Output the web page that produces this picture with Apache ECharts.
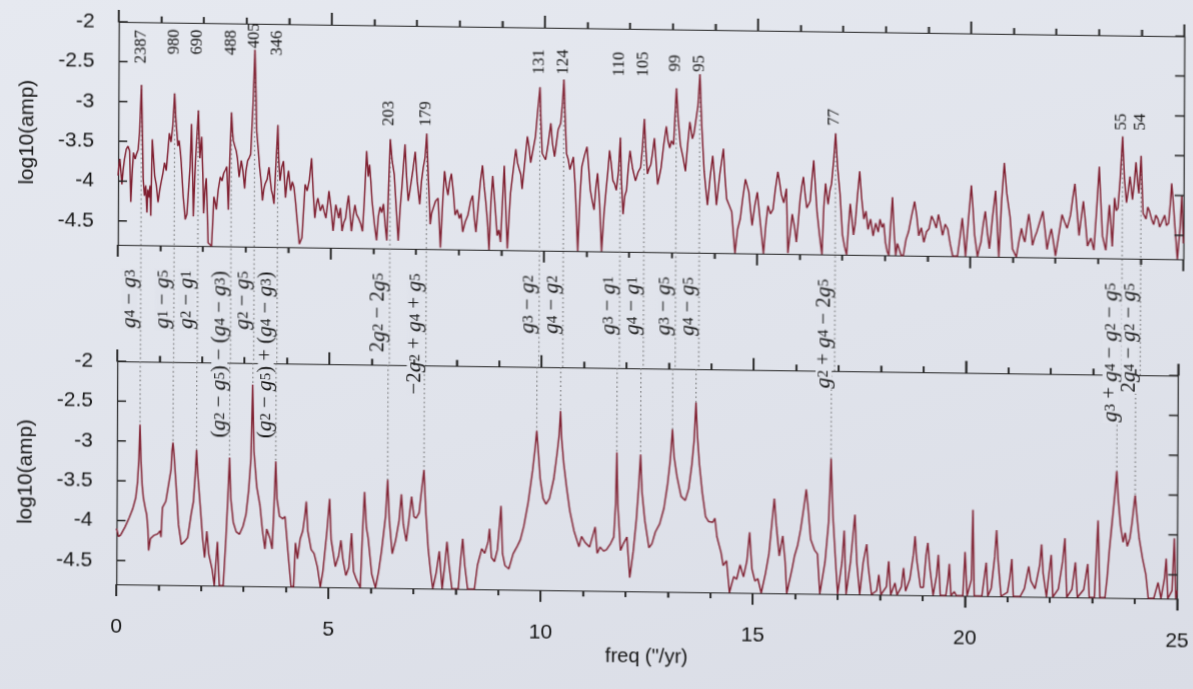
<!DOCTYPE html>
<html>
<head>
<meta charset="utf-8">
<script src="https://cdn.jsdelivr.net/npm/echarts@6/dist/echarts.min.js"></script>
<style>
  html, body { margin: 0; padding: 0; width: 1193px; height: 689px; overflow: hidden;
    background: linear-gradient(165deg, #e6e9f0 0%, #e0e3eb 55%, #dadde6 100%); }
  #chart { position: absolute; left: 0; top: 0; width: 1193px; height: 689px; transform-origin: 0 0; }
</style>
</head>
<body>
<div id="chart"></div>
<script>
// ---- Upper panel: spectrum of the full solution, [frequency ("/yr), log10 amplitude]
const topSpectrum = [
  [0.00,-3.93],[0.02,-3.80],[0.04,-3.72],[0.07,-3.90],[0.09,-4.04],[0.12,-3.85],[0.15,-3.72],[0.19,-3.60],
  [0.23,-3.56],[0.27,-3.62],[0.30,-4.26],[0.33,-3.90],[0.36,-3.64],[0.40,-3.72],[0.43,-3.66],[0.47,-3.60],
  [0.50,-3.39],[0.54,-2.79],[0.57,-3.43],[0.59,-3.97],[0.62,-4.18],[0.65,-4.05],[0.68,-4.39],[0.70,-4.10],
  [0.73,-4.20],[0.75,-4.05],[0.77,-4.43],[0.80,-3.47],[0.83,-3.70],[0.86,-3.93],[0.90,-4.05],[0.94,-4.26],
  [0.98,-4.10],[1.01,-4.01],[1.05,-3.90],[1.09,-3.76],[1.13,-3.86],[1.17,-3.60],[1.20,-3.39],[1.24,-3.50],
  [1.28,-3.30],[1.32,-2.89],[1.35,-3.20],[1.38,-3.40],[1.40,-3.55],[1.43,-3.48],[1.46,-3.62],[1.48,-3.75],
  [1.53,-4.18],[1.58,-4.47],[1.62,-4.40],[1.65,-4.38],[1.69,-3.80],[1.72,-3.27],[1.75,-3.90],[1.77,-4.43],
  [1.80,-3.95],[1.82,-3.70],[1.85,-3.40],[1.88,-3.10],[1.90,-3.45],[1.92,-3.70],[1.94,-3.55],[1.96,-3.43],
  [1.99,-3.90],[2.01,-4.39],[2.04,-4.10],[2.07,-3.95],[2.10,-4.40],[2.12,-4.76],[2.20,-4.80],[2.23,-4.45],
  [2.25,-4.18],[2.28,-4.25],[2.31,-4.34],[2.35,-4.10],[2.40,-3.93],[2.44,-3.98],[2.48,-3.88],[2.52,-3.84],
  [2.55,-3.80],[2.59,-4.34],[2.62,-3.70],[2.656,-3.12],[2.68,-3.35],[2.70,-3.47],[2.74,-3.55],[2.77,-3.60],
  [2.80,-3.70],[2.84,-3.93],[2.89,-3.72],[2.93,-3.85],[2.97,-4.07],[3.00,-3.85],[3.04,-3.72],[3.08,-3.68],
  [3.11,-3.64],[3.16,-3.02],[3.20,-2.33],[3.23,-2.90],[3.25,-3.35],[3.29,-3.60],[3.32,-3.80],[3.36,-4.00],
  [3.39,-4.22],[3.42,-4.08],[3.45,-4.01],[3.50,-3.95],[3.54,-3.80],[3.57,-3.95],[3.60,-4.09],[3.63,-4.15],
  [3.66,-4.26],[3.70,-4.24],[3.746,-3.27],[3.77,-3.70],[3.80,-3.97],[3.84,-3.80],[3.88,-3.72],[3.93,-4.18],
  [3.97,-3.95],[4.00,-3.84],[4.05,-4.09],[4.09,-3.98],[4.13,-4.05],[4.17,-4.25],[4.20,-4.43],[4.26,-4.76],
  [4.32,-4.68],[4.36,-4.30],[4.39,-4.01],[4.44,-4.09],[4.49,-3.95],[4.54,-3.68],[4.58,-4.10],[4.62,-4.43],
  [4.66,-4.25],[4.69,-4.18],[4.75,-4.34],[4.80,-4.26],[4.84,-4.35],[4.88,-4.43],[4.92,-4.25],[4.95,-4.09],
  [5.00,-4.30],[5.05,-4.59],[5.11,-4.26],[5.15,-4.35],[5.18,-4.43],[5.22,-4.30],[5.26,-4.59],[5.30,-4.48],
  [5.34,-4.43],[5.38,-4.25],[5.41,-4.14],[5.45,-4.40],[5.48,-4.59],[5.52,-4.40],[5.56,-4.26],[5.60,-4.38],
  [5.65,-4.43],[5.70,-4.50],[5.74,-4.59],[5.78,-4.20],[5.83,-3.58],[5.87,-3.90],[5.90,-3.75],[5.93,-3.95],
  [5.96,-4.20],[6.02,-4.50],[6.07,-4.70],[6.11,-4.40],[6.15,-4.28],[6.19,-4.35],[6.23,-4.24],[6.27,-4.50],
  [6.31,-4.70],[6.35,-4.00],[6.384,-3.43],[6.43,-3.70],[6.48,-3.87],[6.53,-4.30],[6.58,-4.70],[6.62,-4.30],
  [6.66,-4.03],[6.73,-3.49],[6.77,-3.90],[6.81,-4.20],[6.84,-4.10],[6.87,-4.12],[6.92,-3.80],[6.97,-3.58],
  [7.02,-3.95],[7.08,-4.24],[7.12,-3.95],[7.16,-3.78],[7.20,-3.66],[7.24,-3.35],[7.28,-3.90],[7.33,-4.49],
  [7.36,-4.35],[7.40,-4.37],[7.45,-4.20],[7.51,-4.16],[7.54,-4.45],[7.57,-4.78],[7.62,-4.20],[7.66,-3.82],
  [7.70,-4.00],[7.74,-4.12],[7.78,-3.95],[7.82,-3.85],[7.87,-4.10],[7.91,-4.37],[7.96,-4.30],[8.01,-4.41],
  [8.05,-4.35],[8.09,-4.58],[8.15,-4.45],[8.21,-4.37],[8.27,-4.20],[8.32,-4.12],[8.36,-4.40],[8.40,-4.58],
  [8.46,-4.20],[8.50,-3.95],[8.55,-3.74],[8.59,-4.00],[8.63,-4.20],[8.67,-4.45],[8.71,-4.80],[8.75,-4.20],
  [8.79,-3.87],[8.84,-4.20],[8.90,-4.62],[8.94,-4.55],[8.98,-4.70],[9.02,-4.20],[9.06,-3.74],[9.10,-4.30],
  [9.14,-4.78],[9.18,-4.35],[9.21,-4.08],[9.27,-3.80],[9.33,-3.53],[9.37,-3.70],[9.41,-3.78],[9.45,-3.85],
  [9.48,-4.03],[9.54,-3.70],[9.60,-3.37],[9.64,-3.50],[9.68,-3.70],[9.73,-3.55],[9.79,-3.37],[9.84,-3.05],
  [9.893,-2.75],[9.92,-3.20],[9.95,-3.58],[9.99,-3.62],[10.03,-3.66],[10.09,-3.45],[10.15,-3.20],[10.19,-3.45],
  [10.24,-3.62],[10.28,-3.45],[10.32,-3.28],[10.35,-3.30],[10.38,-3.20],[10.42,-2.95],[10.452,-2.65],[10.49,-3.20],
  [10.52,-3.58],[10.56,-3.65],[10.60,-3.78],[10.64,-3.70],[10.68,-3.62],[10.72,-3.95],[10.76,-4.40],[10.79,-4.80],
  [10.84,-4.10],[10.88,-3.74],[10.94,-3.60],[11.00,-3.49],[11.04,-3.75],[11.08,-4.03],[11.12,-4.15],[11.17,-4.28],
  [11.21,-4.00],[11.25,-3.82],[11.30,-4.20],[11.35,-4.80],[11.40,-4.35],[11.45,-4.03],[11.49,-3.80],[11.53,-3.53],
  [11.57,-3.70],[11.61,-3.91],[11.65,-3.95],[11.69,-4.03],[11.74,-3.80],[11.782,-3.37],[11.81,-3.90],[11.85,-4.33],
  [11.89,-4.10],[11.93,-4.03],[11.97,-3.75],[12.01,-3.53],[12.07,-3.75],[12.14,-3.91],[12.20,-3.80],[12.26,-3.74],
  [12.30,-3.50],[12.343,-3.13],[12.38,-3.50],[12.42,-3.82],[12.46,-3.75],[12.50,-3.70],[12.54,-3.55],[12.58,-3.37],
  [12.62,-3.65],[12.66,-3.95],[12.70,-3.85],[12.74,-3.74],[12.80,-3.45],[12.86,-3.22],[12.90,-3.40],[12.94,-3.49],
  [12.98,-3.40],[13.03,-3.45],[13.06,-3.10],[13.091,-2.74],[13.14,-3.15],[13.19,-3.45],[13.25,-3.60],[13.31,-3.78],
  [13.36,-3.45],[13.41,-3.16],[13.47,-3.37],[13.51,-3.30],[13.55,-3.28],[13.60,-2.95],[13.642,-2.56],[13.69,-3.20],
  [13.75,-3.78],[13.79,-4.00],[13.83,-4.20],[13.89,-3.85],[13.95,-3.58],[14.00,-3.90],[14.04,-4.20],[14.12,-3.80],
  [14.20,-3.49],[14.24,-3.85],[14.28,-4.12],[14.34,-4.20],[14.40,-4.28],[14.44,-4.55],[14.48,-4.80],[14.54,-4.50],
  [14.60,-4.37],[14.66,-4.10],[14.72,-3.87],[14.76,-3.95],[14.80,-4.03],[14.84,-4.25],[14.88,-4.45],[14.94,-4.20],
  [15.00,-4.03],[15.07,-4.40],[15.15,-4.80],[15.20,-4.45],[15.25,-4.20],[15.31,-4.30],[15.37,-4.24],[15.42,-4.00],
  [15.48,-3.77],[15.52,-3.90],[15.56,-4.05],[15.62,-4.16],[15.68,-3.98],[15.72,-4.79],[15.77,-4.55],[15.82,-4.30],
  [15.87,-4.45],[15.92,-4.65],[15.96,-4.40],[16.00,-4.13],[16.04,-3.95],[16.08,-3.83],[16.12,-4.05],[16.16,-4.22],
  [16.20,-4.18],[16.24,-4.13],[16.28,-3.85],[16.32,-3.62],[16.36,-3.95],[16.40,-4.26],[16.46,-4.55],[16.52,-4.80],
  [16.56,-4.20],[16.60,-3.91],[16.63,-4.05],[16.66,-4.17],[16.70,-4.00],[16.74,-3.91],[16.79,-3.60],[16.831,-3.28],
  [16.88,-3.70],[16.94,-4.04],[16.97,-4.30],[17.00,-4.55],[17.05,-4.70],[17.10,-4.80],[17.14,-4.45],[17.18,-4.16],
  [17.22,-4.35],[17.26,-4.55],[17.30,-4.40],[17.35,-4.05],[17.40,-3.75],[17.45,-4.10],[17.50,-4.35],[17.55,-4.25],
  [17.60,-4.48],[17.66,-4.35],[17.72,-4.56],[17.78,-4.40],[17.84,-4.51],[17.88,-4.35],[17.93,-4.45],[17.97,-4.40],
  [18.01,-4.64],[18.05,-4.75],[18.09,-4.80],[18.13,-4.40],[18.17,-4.07],[18.21,-4.50],[18.25,-4.80],[18.29,-4.65],
  [18.33,-4.72],[18.38,-4.80],[18.43,-4.80],[18.49,-4.60],[18.55,-4.50],[18.62,-4.30],[18.69,-4.12],[18.74,-4.30],
  [18.79,-4.55],[18.85,-4.45],[18.91,-4.63],[18.97,-4.50],[19.03,-4.46],[19.09,-4.30],[19.15,-4.37],[19.20,-4.45],
  [19.25,-4.28],[19.30,-4.40],[19.35,-4.54],[19.41,-4.40],[19.47,-4.46],[19.53,-4.65],[19.59,-4.80],[19.70,-4.80],
  [19.76,-4.55],[19.81,-4.32],[19.85,-4.55],[19.89,-4.80],[19.96,-4.30],[20.02,-3.91],[20.06,-4.20],[20.10,-4.53],
  [20.17,-4.80],[20.21,-4.70],[20.25,-4.62],[20.30,-4.40],[20.35,-4.23],[20.40,-4.50],[20.45,-4.70],[20.52,-4.30],
  [20.59,-3.97],[20.63,-4.40],[20.67,-4.80],[20.73,-4.10],[20.79,-3.62],[20.85,-4.00],[20.93,-4.30],[20.99,-4.70],
  [21.08,-4.80],[21.14,-4.60],[21.20,-4.44],[21.24,-4.55],[21.28,-4.61],[21.33,-4.40],[21.37,-4.26],[21.42,-4.45],
  [21.46,-4.65],[21.51,-4.55],[21.56,-4.48],[21.63,-4.35],[21.70,-4.22],[21.75,-4.45],[21.80,-4.70],[21.85,-4.55],
  [21.90,-4.44],[21.95,-4.60],[22.00,-4.78],[22.08,-4.50],[22.15,-4.26],[22.21,-4.35],[22.27,-4.43],[22.31,-4.35],
  [22.35,-4.26],[22.40,-4.05],[22.45,-3.87],[22.50,-4.20],[22.55,-4.52],[22.60,-4.30],[22.65,-4.09],[22.70,-4.35],
  [22.75,-4.65],[22.83,-4.55],[22.90,-4.70],[22.96,-4.20],[23.02,-3.65],[23.06,-4.10],[23.10,-4.52],[23.18,-4.70],
  [23.22,-4.40],[23.26,-4.13],[23.30,-4.40],[23.33,-4.65],[23.38,-4.04],[23.42,-4.20],[23.46,-4.17],[23.51,-3.80],
  [23.564,-3.27],[23.61,-3.80],[23.66,-4.10],[23.70,-3.95],[23.74,-3.77],[23.80,-4.06],[23.84,-3.85],[23.88,-3.59],
  [23.92,-3.85],[23.95,-3.98],[24.00,-3.51],[24.05,-4.23],[24.12,-4.30],[24.16,-4.15],[24.20,-4.20],[24.25,-4.30],
  [24.30,-4.37],[24.35,-4.25],[24.40,-4.30],[24.44,-4.40],[24.48,-4.42],[24.52,-4.30],[24.56,-4.25],[24.60,-4.38],
  [24.65,-4.35],[24.69,-4.10],[24.72,-3.85],[24.76,-4.10],[24.80,-4.40],[24.86,-4.80],[24.92,-4.40],[24.96,-4.00],
  [25.00,-4.60]
];

// ---- Lower panel: spectrum of the filtered solution, [frequency ("/yr), log10 amplitude]
const bottomSpectrum = [
  [0.00,-4.10],[0.05,-4.20],[0.10,-4.18],[0.20,-4.08],[0.30,-3.96],[0.38,-3.85],[0.45,-3.71],[0.49,-3.52],
  [0.52,-3.22],[0.543,-2.79],[0.57,-3.25],[0.60,-3.55],[0.63,-3.71],[0.68,-3.85],[0.71,-3.92],[0.74,-4.10],
  [0.76,-4.37],[0.80,-4.22],[0.88,-4.18],[0.97,-4.16],[1.03,-4.12],[1.05,-4.20],[1.08,-3.83],[1.16,-3.75],
  [1.22,-3.55],[1.28,-3.35],[1.30,-3.12],[1.322,-3.01],[1.35,-3.17],[1.38,-3.40],[1.42,-3.70],[1.46,-4.04],
  [1.53,-4.29],[1.61,-4.25],[1.68,-4.20],[1.76,-3.90],[1.81,-3.75],[1.85,-3.42],[1.878,-3.10],[1.91,-3.40],
  [1.97,-3.79],[2.03,-4.20],[2.08,-4.45],[2.13,-4.12],[2.18,-4.41],[2.26,-4.60],[2.31,-4.80],[2.38,-4.25],
  [2.43,-4.80],[2.52,-4.80],[2.58,-4.20],[2.62,-3.70],[2.656,-3.19],[2.69,-3.70],[2.75,-4.00],[2.82,-4.12],
  [2.90,-4.15],[2.98,-4.05],[3.05,-3.90],[3.11,-3.60],[3.16,-3.20],[3.195,-2.27],[3.23,-3.10],[3.30,-3.55],
  [3.38,-3.79],[3.44,-4.10],[3.50,-4.33],[3.54,-4.08],[3.62,-4.20],[3.67,-4.33],[3.71,-3.80],[3.746,-3.23],
  [3.78,-3.70],[3.84,-3.92],[3.92,-3.95],[3.97,-3.92],[4.05,-4.40],[4.12,-4.80],[4.18,-4.80],[4.22,-4.25],
  [4.27,-4.45],[4.33,-4.20],[4.39,-4.10],[4.44,-3.90],[4.47,-3.73],[4.51,-4.10],[4.59,-4.33],[4.66,-4.38],
  [4.74,-4.55],[4.81,-4.80],[4.87,-4.60],[4.96,-4.10],[5.02,-3.69],[5.06,-4.20],[5.16,-4.54],[5.24,-4.40],
  [5.29,-4.21],[5.34,-4.45],[5.41,-4.65],[5.48,-4.55],[5.54,-4.12],[5.59,-4.60],[5.66,-4.70],[5.75,-4.80],
  [5.80,-4.10],[5.84,-3.60],[5.89,-4.05],[5.93,-4.17],[6.02,-4.63],[6.11,-4.80],[6.18,-4.60],[6.25,-4.33],
  [6.34,-3.90],[6.384,-3.44],[6.43,-3.95],[6.50,-4.37],[6.58,-4.20],[6.66,-3.95],[6.71,-3.62],[6.76,-4.00],
  [6.83,-4.21],[6.89,-3.95],[6.95,-3.65],[7.01,-3.90],[7.06,-3.92],[7.13,-3.85],[7.18,-3.60],[7.24,-3.31],
  [7.29,-3.85],[7.35,-4.31],[7.41,-4.60],[7.46,-4.80],[7.54,-4.60],[7.61,-4.33],[7.68,-4.80],[7.74,-4.50],
  [7.79,-4.21],[7.84,-4.50],[7.91,-4.80],[8.06,-4.80],[8.11,-4.45],[8.16,-4.17],[8.21,-4.50],[8.28,-4.80],
  [8.44,-4.80],[8.51,-4.50],[8.61,-4.29],[8.68,-4.35],[8.76,-4.20],[8.79,-4.04],[8.84,-4.40],[8.91,-4.45],
  [8.98,-4.30],[9.06,-3.75],[9.10,-4.35],[9.16,-4.50],[9.25,-4.54],[9.35,-4.35],[9.45,-4.25],[9.52,-4.17],
  [9.60,-4.00],[9.70,-3.70],[9.80,-3.30],[9.86,-3.00],[9.893,-2.80],[9.93,-3.05],[9.98,-3.40],[10.05,-3.65],
  [10.12,-3.72],[10.20,-3.65],[10.30,-3.40],[10.38,-3.05],[10.42,-2.85],[10.452,-2.55],[10.48,-2.90],[10.53,-3.20],
  [10.60,-3.50],[10.68,-3.80],[10.78,-4.05],[10.90,-4.25],[10.96,-4.12],[11.05,-4.20],[11.15,-4.25],[11.28,-4.00],
  [11.33,-4.33],[11.40,-4.25],[11.48,-4.30],[11.55,-4.28],[11.65,-4.20],[11.72,-4.12],[11.76,-3.70],[11.782,-3.06],
  [11.81,-3.70],[11.88,-4.29],[11.95,-4.20],[12.03,-4.12],[12.10,-4.63],[12.18,-4.30],[12.25,-3.90],[12.30,-3.50],
  [12.343,-3.08],[12.38,-3.55],[12.45,-3.91],[12.55,-4.25],[12.62,-4.20],[12.70,-4.05],[12.80,-3.95],[12.90,-3.75],
  [12.98,-3.45],[13.04,-3.15],[13.091,-2.76],[13.13,-3.10],[13.20,-3.35],[13.30,-3.60],[13.40,-3.65],[13.48,-3.50],
  [13.55,-3.20],[13.60,-2.90],[13.642,-2.42],[13.68,-2.85],[13.73,-3.20],[13.80,-3.55],[13.88,-3.85],[13.95,-3.91],
  [14.05,-3.92],[14.10,-3.87],[14.15,-4.10],[14.25,-4.30],[14.30,-4.46],[14.38,-4.40],[14.45,-4.80],[14.55,-4.60],
  [14.62,-4.63],[14.70,-4.45],[14.78,-4.60],[14.86,-4.40],[14.92,-4.04],[14.98,-4.50],[15.05,-4.65],[15.12,-4.62],
  [15.20,-4.80],[15.30,-4.55],[15.38,-4.30],[15.44,-3.95],[15.50,-3.61],[15.55,-3.95],[15.62,-4.33],[15.70,-4.08],
  [15.76,-4.40],[15.80,-4.80],[15.92,-4.50],[15.98,-4.33],[16.05,-4.20],[16.12,-4.00],[16.20,-3.70],[16.25,-3.49],
  [16.30,-3.75],[16.36,-4.12],[16.45,-4.25],[16.52,-4.30],[16.58,-4.80],[16.70,-4.40],[16.78,-3.90],[16.831,-3.10],
  [16.88,-3.80],[16.95,-4.40],[17.00,-4.80],[17.10,-4.40],[17.15,-4.00],[17.20,-4.80],[17.30,-4.40],[17.40,-3.80],
  [17.45,-4.40],[17.52,-4.80],[17.60,-4.40],[17.68,-4.17],[17.72,-4.45],[17.80,-4.80],[17.92,-4.75],[17.97,-4.55],
  [18.02,-4.80],[18.15,-4.70],[18.20,-4.38],[18.25,-4.80],[18.35,-4.65],[18.40,-4.80],[18.50,-4.70],[18.55,-4.46],
  [18.60,-4.75],[18.70,-4.60],[18.78,-4.30],[18.82,-4.06],[18.86,-4.35],[18.95,-4.70],[19.02,-4.70],[19.08,-4.30],
  [19.12,-4.14],[19.17,-4.45],[19.25,-4.80],[19.33,-4.55],[19.37,-4.29],[19.42,-4.80],[19.55,-4.80],[19.60,-4.60],
  [19.63,-4.40],[19.67,-4.80],[19.75,-4.75],[19.80,-4.80],[19.95,-4.80],[20.00,-4.25],[20.05,-4.80],[20.15,-4.60],
  [20.18,-3.72],[20.22,-4.80],[20.40,-4.80],[20.47,-4.50],[20.50,-4.38],[20.54,-4.80],[20.62,-4.70],[20.70,-4.30],
  [20.74,-3.97],[20.78,-4.35],[20.85,-4.80],[21.00,-4.75],[21.06,-4.55],[21.10,-4.33],[21.14,-4.80],[21.30,-4.80],
  [21.40,-4.70],[21.50,-4.42],[21.55,-4.60],[21.65,-4.70],[21.76,-4.40],[21.80,-4.14],[21.84,-4.50],[21.92,-4.80],
  [21.98,-4.50],[22.03,-4.27],[22.07,-4.80],[22.20,-4.70],[22.30,-4.35],[22.35,-4.06],[22.40,-4.80],[22.52,-4.70],
  [22.60,-4.36],[22.65,-4.80],[22.80,-4.70],[22.89,-4.38],[22.93,-4.80],[23.05,-4.80],[23.13,-3.83],[23.18,-4.80],
  [23.30,-4.80],[23.35,-4.55],[23.40,-4.20],[23.46,-3.85],[23.52,-3.50],[23.564,-3.21],[23.60,-3.55],[23.66,-3.90],
  [23.72,-4.10],[23.77,-3.98],[23.82,-4.15],[23.88,-4.05],[23.93,-3.85],[23.97,-3.65],[24.00,-3.51],[24.04,-3.75],
  [24.10,-4.05],[24.18,-4.30],[24.26,-4.50],[24.32,-4.80],[24.45,-4.80],[24.55,-4.60],[24.62,-4.80],[24.70,-4.55],
  [24.74,-4.30],[24.78,-4.80],[24.88,-4.70],[24.93,-4.04],[24.97,-4.80],[25.00,-4.70]
];

// ---- Identified lines: period (kyr) and the secular-frequency combination
const periods = [2387, 980, 690, 488, 405, 346, 203, 179, 131, 124, 110, 105, 99, 95, 77, 55, 54];
const combos = [
  'g4 − g3', 'g1 − g5', 'g2 − g1', '(g2 − g5) − (g4 − g3)', 'g2 − g5', '(g2 − g5) + (g4 − g3)',
  '2g2 − 2g5', '−2g2 + g4 + g5', 'g3 − g2', 'g4 − g2', 'g3 − g1', 'g4 − g1',
  'g3 − g5', 'g4 − g5', 'g2 + g4 − 2g5', 'g3 + g4 − g2 − g5', '2g4 − g2 − g5'
];
const xTickValues = [0,1,2,3,4,5,6,7,8,9,10,11,12,13,14,15,16,17,18,19,20,21,22,23,24,25];
const yTickValues = [-4.5, -4, -3.5, -3, -2.5, -2];

// ---- Layout and styling
const W = 1193;
const PAPER = '#e0e3eb';
const INK = '#161616';
const AXIS = '#222222';
const CURVE = '#7e1d2e';
const GRID_TOP = { left: 118, right: 10, top: 18, height: 226 };
const GRID_BOT = { left: 118, right: 10, top: 362, height: 226 };
const PANEL_GAP = GRID_BOT.top - (GRID_TOP.top + GRID_TOP.height);
const COMBO_OFFSET = 24;            // formula labels start this far below the upper panel
const MAJOR_TICK = 12, MINOR_TICK = 6, Y_TICK = 9;   // tick lengths in px
const TICK_WIDTH = 1.5;
const periodLabelBase = [-2.52, -2.40, -2.40, -2.40, -2.31, -2.40, -3.26, -3.26,
                         -2.59, -2.59, -2.60, -2.60, -2.53, -2.53, -3.18, -3.19, -3.19];
const X_MIN = 0, X_MAX = 25, Y_MIN = -4.8, Y_MAX = -2;

const freqOf = p => 1296 / p;       // period in kyr -> frequency in "/yr
function peakNear(spec, f) {
  let best = -Infinity;
  for (const [x, y] of spec) if (Math.abs(x - f) <= 0.05) best = Math.max(best, y);
  return best;
}
const lineFreq = periods.map(freqOf);
const topPeak = lineFreq.map(f => peakNear(topSpectrum, f));
const botPeak = lineFreq.map(f => peakNear(bottomSpectrum, f));

// tick segments in axis units: outward on top/bottom (long every 5), inward on the sides
function tickSegments(grid) {
  const pxX = (W - grid.left - grid.right) / (X_MAX - X_MIN);
  const pxY = grid.height / (Y_MAX - Y_MIN);
  const segs = [];
  for (const v of xTickValues) {
    const len = (v % 5 === 0 ? MAJOR_TICK : MINOR_TICK) / pxY;
    segs.push([[v, Y_MIN], [v, Y_MIN - len]], [[v, Y_MAX], [v, Y_MAX + len]]);
  }
  const dx = Y_TICK / pxX;
  for (const v of yTickValues) segs.push([[X_MIN, v], [X_MIN + dx, v]], [[X_MAX, v], [X_MAX - dx, v]]);
  return segs;
}

function richFormula(s) {
  let out = '', buf = '';
  const flush = () => { if (buf) { out += '{o|' + buf + '}'; buf = ''; } };
  for (let k = 0; k < s.length; k++) {
    const ch = s[k];
    if (ch === 'g' && /\d/.test(s[k + 1] || '')) { flush(); out += '{v|g}{s|' + s[k + 1] + '}'; k++; }
    else buf += ch;
  }
  flush();
  return out;
}
const richStyles = {
  v: { fontFamily: 'Liberation Serif', fontStyle: 'italic', fontSize: 22, lineHeight: 16, fill: INK },
  s: { fontFamily: 'Liberation Serif', fontSize: 15, lineHeight: 4, verticalAlign: 'bottom', fill: INK },
  o: { fontFamily: 'Liberation Serif', fontSize: 21, lineHeight: 16, fill: INK }
};

const fontSans = 'Liberation Sans, Arial, sans-serif';
function xAxisDef(gridIndex, position, labels) {
  return {
    type: 'value', gridIndex, position, min: X_MIN, max: X_MAX, interval: 5,
    axisLine: { show: true, onZero: false, lineStyle: { color: AXIS, width: 1.2 } },
    axisTick: { show: true, inside: false, length: MAJOR_TICK, lineStyle: { color: AXIS, width: TICK_WIDTH } },
    minorTick: { show: true, splitNumber: 5, length: MINOR_TICK, lineStyle: { color: AXIS, width: TICK_WIDTH } },
    splitLine: { show: false }, minorSplitLine: { show: false },
    axisLabel: { show: labels, fontSize: 21, color: INK, fontFamily: fontSans, margin: 33 },
    name: labels ? 'freq ("/yr)' : '', nameLocation: 'middle', nameGap: 56,
    nameTextStyle: { fontSize: 20, color: INK, fontFamily: fontSans }
  };
}
function yAxisDef(gridIndex, position) {
  const left = position === 'left';
  return {
    type: 'value', gridIndex, position, min: Y_MIN, max: Y_MAX,
    axisLine: { show: true, onZero: false, lineStyle: { color: AXIS, width: 1.2 } },
    axisTick: { show: false },
    axisLabel: { show: left, customValues: yTickValues, fontSize: 21, color: INK, fontFamily: fontSans, margin: 24 },
    splitLine: { show: false },
    name: left ? 'log10(amp)' : '', nameLocation: 'middle', nameGap: 80, nameRotate: 90,
    nameTextStyle: { fontSize: 21, color: INK, fontFamily: fontSans }
  };
}

const markers = lineFreq.map((f, i) => [f, i]);
const dotStyle = { stroke: '#666', lineWidth: 1, lineDash: [1.6, 3] };
const tickSeries = (xi, yi, grid) => tickSegments(grid).map(seg => ({
  type: 'line', xAxisIndex: xi, yAxisIndex: yi, data: seg, clip: false,
  showSymbol: false, silent: true, z: 6, lineStyle: { color: AXIS, width: TICK_WIDTH }
}));

const option = {
  animation: false,
  backgroundColor: 'transparent',
  grid: [GRID_TOP, GRID_BOT],
  xAxis: [xAxisDef(0, 'bottom', false), xAxisDef(0, 'top', false), xAxisDef(1, 'bottom', true), xAxisDef(1, 'top', false)],
  yAxis: [yAxisDef(0, 'left'), yAxisDef(0, 'right'), yAxisDef(1, 'left'), yAxisDef(1, 'right')],
  series: [
    {
      type: 'line', xAxisIndex: 0, yAxisIndex: 0, showSymbol: false, z: 3,
      data: topSpectrum, lineStyle: { color: CURVE, width: 1.45 }
    },
    {
      type: 'line', xAxisIndex: 2, yAxisIndex: 2, showSymbol: false, z: 3,
      data: bottomSpectrum, lineStyle: { color: CURVE, width: 1.45 }
    },
    {
      // dotted guides from the upper peaks down to the lower panel, with period and formula labels
      type: 'custom', xAxisIndex: 0, yAxisIndex: 0, clip: false, z: 2, silent: true,
      data: markers,
      renderItem(params, api) {
        const f = api.value(0), i = api.value(1);
        const pk = api.coord([f, topPeak[i]]);
        const base = api.coord([f, Y_MIN]);
        const lowerTop = base[1] + PANEL_GAP;
        const lab = api.coord([f, periodLabelBase[i]]);
        return {
          type: 'group',
          children: [
            { type: 'line', shape: { x1: pk[0], y1: pk[1], x2: pk[0], y2: lowerTop }, style: { ...dotStyle } },
            { type: 'text', x: pk[0] - 1, y: lab[1], rotation: Math.PI / 2,
              style: { text: String(periods[i]), align: 'left', verticalAlign: 'middle',
                       font: '17px "Liberation Serif"', fill: INK } },
            { type: 'text', x: pk[0] - 3, y: base[1] + COMBO_OFFSET, rotation: Math.PI / 2, z2: 10,
              style: { text: richFormula(combos[i]), rich: richStyles, align: 'right', verticalAlign: 'bottom',
                       backgroundColor: PAPER, padding: [0, 1, 0, 1] } }
          ]
        };
      }
    },
    {
      type: 'custom', xAxisIndex: 2, yAxisIndex: 2, clip: false, z: 2, silent: true,
      data: markers,
      renderItem(params, api) {
        const f = api.value(0), i = api.value(1);
        const pk = api.coord([f, botPeak[i]]);
        const top = api.coord([f, Y_MAX]);
        return { type: 'line', shape: { x1: pk[0], y1: top[1], x2: pk[0], y2: pk[1] }, style: { ...dotStyle } };
      }
    },
    ...tickSeries(0, 0, GRID_TOP),
    ...tickSeries(2, 2, GRID_BOT)
  ]
};

// the printed page sits slightly tilted: fit a flat (affine) map from the plot box onto the printed corners
function affineFit(src, dst) {
  const n = src.length;
  const mx = src.reduce((s, p) => s + p[0], 0) / n, my = src.reduce((s, p) => s + p[1], 0) / n;
  const mu = dst.reduce((s, p) => s + p[0], 0) / n, mv = dst.reduce((s, p) => s + p[1], 0) / n;
  let sxx = 0, syy = 0, sxy = 0, sxu = 0, syu = 0, sxv = 0, syv = 0;
  for (let i = 0; i < n; i++) {
    const x = src[i][0] - mx, y = src[i][1] - my, u = dst[i][0] - mu, v = dst[i][1] - mv;
    sxx += x * x; syy += y * y; sxy += x * y; sxu += x * u; syu += y * u; sxv += x * v; syv += y * v;
  }
  const det = sxx * syy - sxy * sxy;
  const a = (sxu * syy - syu * sxy) / det, b = (syu * sxx - sxu * sxy) / det;
  const d = (sxv * syy - syv * sxy) / det, e = (syv * sxx - sxv * sxy) / det;
  const c = mu - a * mx - b * my, f = mv - d * mx - e * my;
  return `matrix(${a},${d},${b},${e},${c},${f})`;
}
const el = document.getElementById('chart');
const xl = GRID_TOP.left, xr = W - GRID_TOP.right, yt = GRID_TOP.top, yb = GRID_BOT.top + GRID_BOT.height;
el.style.transform = affineFit(
  [[xl, yt], [xr, yt], [xl, yb], [xr, yb]],
  [[120, 18], [1183, 40], [115, 588], [1183, 595]]
);

const chart = echarts.init(el, null, { renderer: 'canvas' });
chart.setOption(option);
</script>
</body>
</html>
